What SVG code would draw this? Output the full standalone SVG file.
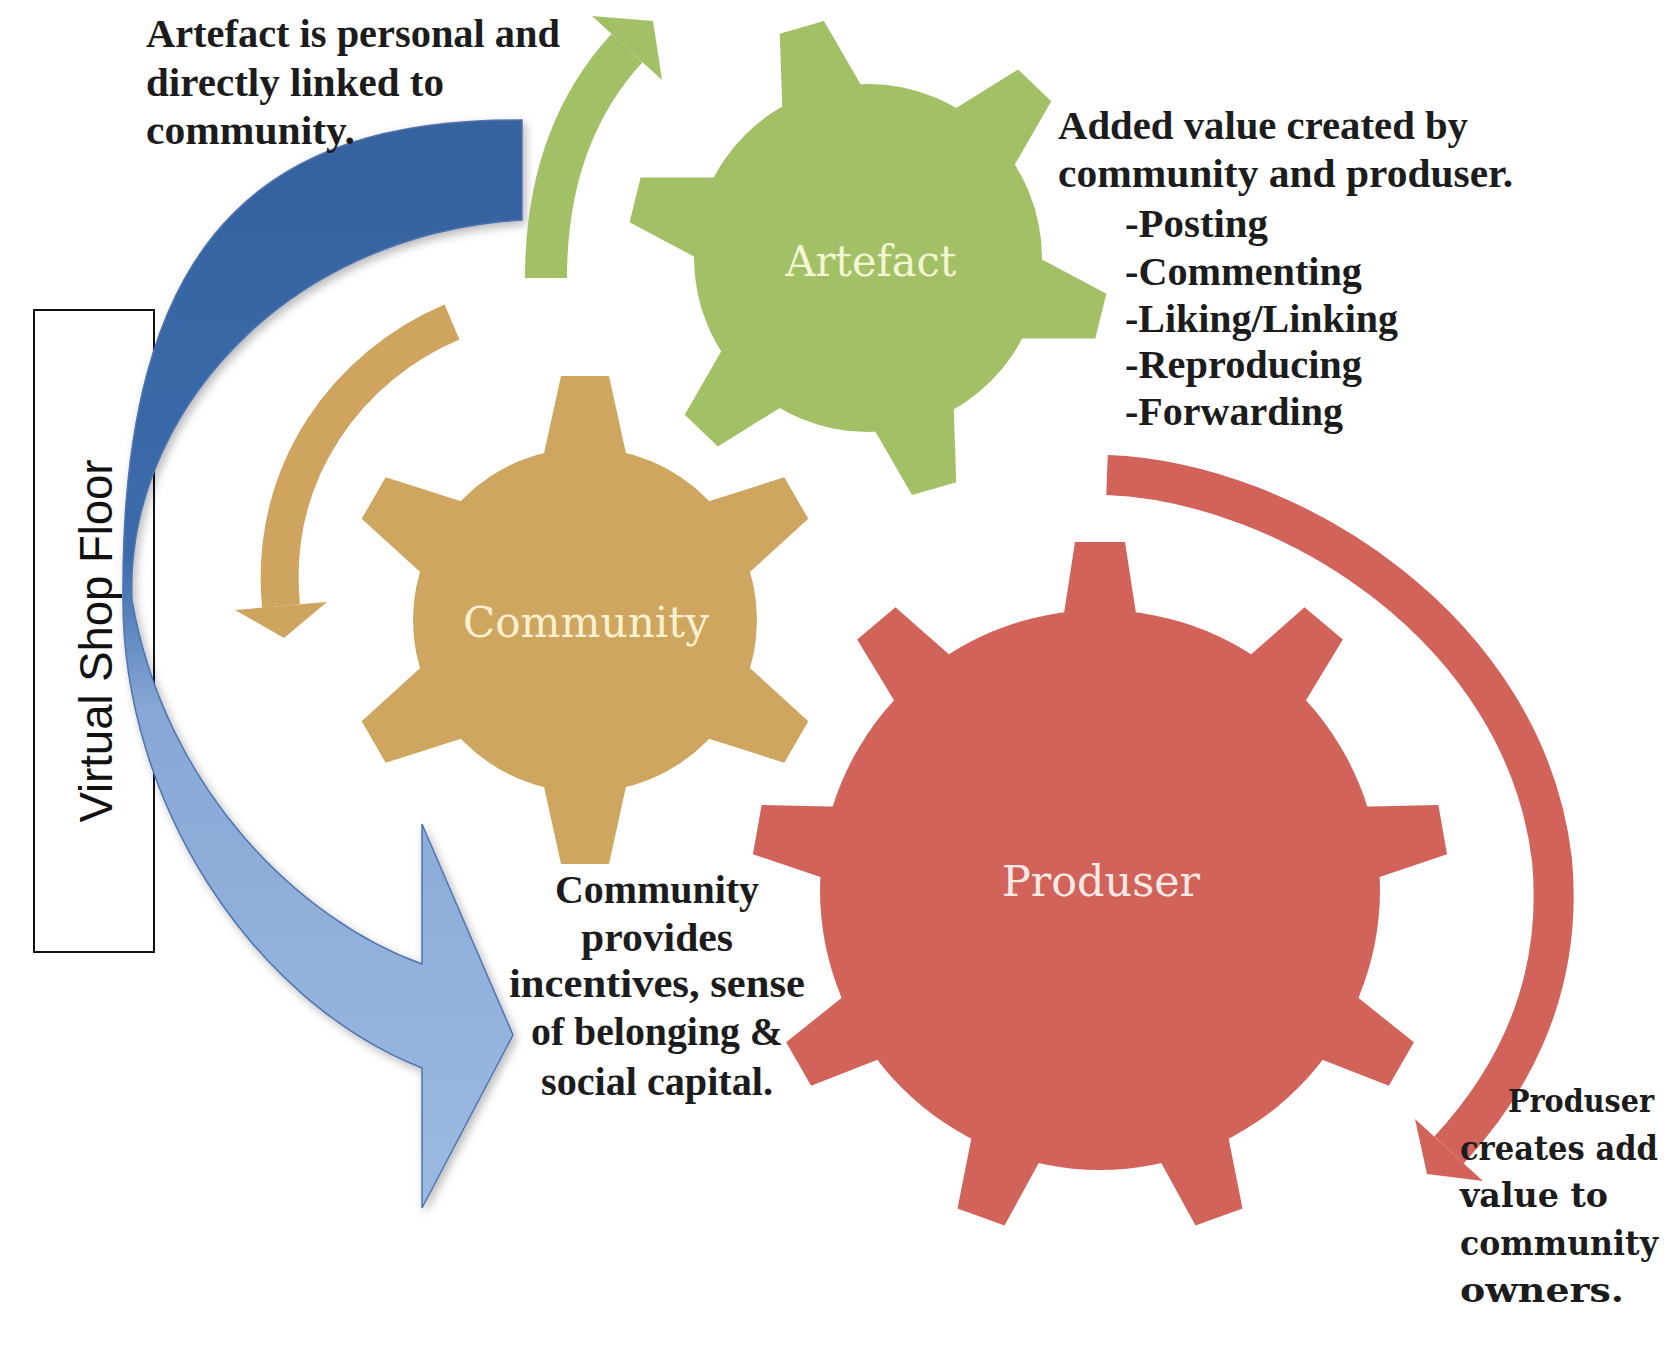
<svg xmlns="http://www.w3.org/2000/svg" width="1677" height="1357" viewBox="0 0 1677 1357">
<defs>
<style>
.ann{font-family:"Liberation Serif","Times New Roman",serif;font-weight:bold;font-size:40px;fill:#1c1c1c}
.ann2{font-family:"DejaVu Serif","Liberation Serif",serif;font-weight:bold;font-size:34px;fill:#1c1c1c}
.sm{font-size:31px}
.mid{text-anchor:middle}
.lbl{font-family:"DejaVu Serif","Liberation Serif",serif;font-size:42px;text-anchor:middle}
.vsf{font-family:"Liberation Sans",Arial,sans-serif;font-size:46px;fill:#111;text-anchor:middle}
.box{fill:#fff;stroke:#111;stroke-width:2}
.shaft{fill:none;stroke-linecap:butt}
</style>
<linearGradient id="blueGrad" gradientUnits="userSpaceOnUse" x1="0" y1="120" x2="0" y2="1208">
<stop offset="0" stop-color="#35639f"/>
<stop offset="0.40" stop-color="#3b6aab"/>
<stop offset="0.54" stop-color="#87a8d6"/>
<stop offset="1" stop-color="#9cb9e1"/>
</linearGradient>
<filter id="shadow" x="-20%" y="-10%" width="140%" height="130%">
<feDropShadow dx="3" dy="4" stdDeviation="5" flood-color="#000" flood-opacity="0.28"/>
</filter>
<polygon id="toothA" points="-42,-164 -23,-240 23,-240 42,-164"/>
<polygon id="toothC" points="-42,-162 -24,-244 24,-244 42,-162"/>
<polygon id="toothP" points="-37,-270 -25,-348 25,-348 37,-270"/>
</defs>
<rect width="1677" height="1357" fill="#fff"/>

<g id="node-virtual-shop-floor">
<rect class="box" x="34" y="310" width="120" height="642"/>
<text class="vsf" transform="translate(112,641) rotate(-90)" textLength="363" lengthAdjust="spacingAndGlyphs">Virtual Shop Floor</text>
</g>

<g id="connectors">
<path id="arrow-blue" d="M522 120 C260 118 120 240 123 600 C123 800 250 1000 422 1068 L422 1208 L513 1035 L422 824 L422 964 C300 920 165 790 132 600 C125 420 280 235 522 220 Z" fill="url(#blueGrad)" stroke="#5074ae" stroke-width="1.5" filter="url(#shadow)"/>
<g id="arrow-green" fill="#a2c167">
<path class="shaft" d="M546 278 C546 190 570 110 627 48" stroke="#a2c167" stroke-width="42"/>
<polygon points="592,16 653,21 662,80"/>
</g>
<g id="arrow-tan" fill="#cfa45f">
<path class="shaft" d="M452 322 C350 365 268 470 281 606" stroke="#cfa45f" stroke-width="38"/>
<polygon points="327,602 235,610 284,638"/>
</g>
<g id="arrow-red" fill="#d1635b">
<path class="shaft" d="M1107 475 C1290 482 1525 630 1552 860 C1565 1000 1500 1095 1449 1150" stroke="#d1635b" stroke-width="40"/>
<polygon points="1483,1181 1415,1119 1427,1174"/>
</g>
</g>

<g id="node-artefact">
<g transform="translate(868,258)" fill="#a2c167">
<circle r="174"/>
<use href="#toothA" transform="rotate(44)"/>
<use href="#toothA" transform="rotate(104)"/>
<use href="#toothA" transform="rotate(164)"/>
<use href="#toothA" transform="rotate(224)"/>
<use href="#toothA" transform="rotate(284)"/>
<use href="#toothA" transform="rotate(344)"/>
</g>
<text class="lbl" x="871" y="276" fill="#f3f6d2" textLength="171" lengthAdjust="spacingAndGlyphs">Artefact</text>
</g>

<g id="node-community">
<g transform="translate(585,620)" fill="#cea660">
<circle r="172"/>
<use href="#toothC" transform="rotate(0)"/>
<use href="#toothC" transform="rotate(60)"/>
<use href="#toothC" transform="rotate(120)"/>
<use href="#toothC" transform="rotate(180)"/>
<use href="#toothC" transform="rotate(240)"/>
<use href="#toothC" transform="rotate(300)"/>
</g>
<text class="lbl" x="586" y="637" fill="#fbf1cf" textLength="246" lengthAdjust="spacingAndGlyphs">Community</text>
</g>

<g id="node-produser">
<g transform="translate(1100,890)" fill="#d1635b">
<circle r="280"/>
<use href="#toothP" transform="rotate(0)"/>
<use href="#toothP" transform="rotate(40)"/>
<use href="#toothP" transform="rotate(80)"/>
<use href="#toothP" transform="rotate(120)"/>
<use href="#toothP" transform="rotate(160)"/>
<use href="#toothP" transform="rotate(200)"/>
<use href="#toothP" transform="rotate(240)"/>
<use href="#toothP" transform="rotate(280)"/>
<use href="#toothP" transform="rotate(320)"/>
</g>
<text class="lbl" x="1101" y="896" fill="#fbe9e5" textLength="198" lengthAdjust="spacingAndGlyphs">Produser</text>
</g>

<g id="note-artefact">
<text class="ann" x="146" y="47" textLength="414" lengthAdjust="spacingAndGlyphs">Artefact is personal and</text>
<text class="ann" x="146" y="96" textLength="298" lengthAdjust="spacingAndGlyphs">directly linked to</text>
<text class="ann" x="146" y="144" textLength="209" lengthAdjust="spacingAndGlyphs">community.</text>
</g>

<g id="note-added-value">
<text class="ann" x="1058" y="139" textLength="410" lengthAdjust="spacingAndGlyphs">Added value created by</text>
<text class="ann" x="1058" y="187" textLength="455" lengthAdjust="spacingAndGlyphs">community and produser.</text>
<text class="ann" x="1125" y="237" textLength="143" lengthAdjust="spacingAndGlyphs">-Posting</text>
<text class="ann" x="1125" y="285" textLength="237" lengthAdjust="spacingAndGlyphs">-Commenting</text>
<text class="ann" x="1125" y="332" textLength="273" lengthAdjust="spacingAndGlyphs">-Liking/Linking</text>
<text class="ann" x="1125" y="378" textLength="237" lengthAdjust="spacingAndGlyphs">-Reproducing</text>
<text class="ann" x="1125" y="425" textLength="218" lengthAdjust="spacingAndGlyphs">-Forwarding</text>
</g>

<g id="note-community">
<text class="ann mid" x="657" y="903" textLength="204" lengthAdjust="spacingAndGlyphs">Community</text>
<text class="ann mid" x="657" y="951" textLength="152" lengthAdjust="spacingAndGlyphs">provides</text>
<text class="ann mid" x="657" y="997" textLength="296" lengthAdjust="spacingAndGlyphs">incentives, sense</text>
<text class="ann mid" x="657" y="1045" textLength="252" lengthAdjust="spacingAndGlyphs">of belonging &amp;</text>
<text class="ann mid" x="657" y="1095" textLength="232" lengthAdjust="spacingAndGlyphs">social capital.</text>
</g>

<g id="note-produser">
<text class="ann2 sm" x="1508" y="1112" textLength="146" lengthAdjust="spacingAndGlyphs">Produser</text>
<text class="ann2" x="1460" y="1160" textLength="198" lengthAdjust="spacingAndGlyphs">creates add</text>
<text class="ann2" x="1460" y="1207" textLength="148" lengthAdjust="spacingAndGlyphs">value to</text>
<text class="ann2" x="1460" y="1255" textLength="198" lengthAdjust="spacingAndGlyphs">community</text>
<text class="ann2" x="1460" y="1302" textLength="164" lengthAdjust="spacingAndGlyphs">owners.</text>
</g>
</svg>
